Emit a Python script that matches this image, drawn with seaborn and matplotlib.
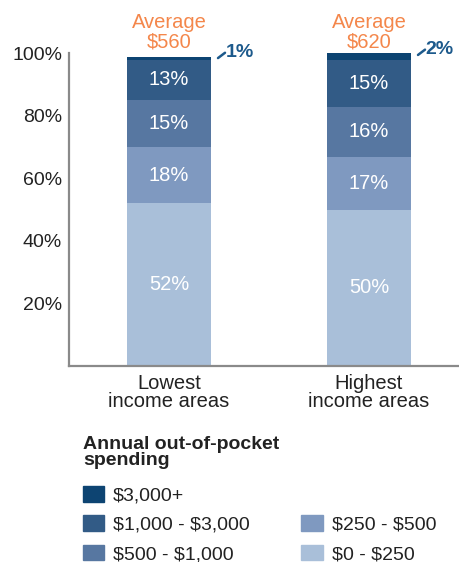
import matplotlib
matplotlib.use("Agg")
import matplotlib.pyplot as plt
import seaborn as sns
import numpy as np
import pandas as pd
from matplotlib.patches import Patch

# data (share of people, %)
groups = ["Lowest\nincome areas", "Highest\nincome areas"]
averages = ["$560", "$620"]
bands = ["$0 - $250", "$250 - $500", "$500 - $1,000", "$1,000 - $3,000", "$3,000+"]
lowest = [52, 18, 15, 13, 1]
highest = [50, 17, 16, 15, 2]
colors = ["#a9bfd9", "#7f99c0", "#5777a1", "#325b86", "#0d4472"]

sns.set_style("white")
plt.rcParams["font.family"] = ["Liberation Sans", "DejaVu Sans"]


def esc(s):
    return s.replace("$", r"\$")


df = pd.DataFrame({"group": np.repeat(groups, len(bands)),
                   "band": bands * len(groups),
                   "value": lowest + highest})
df["top"] = df.groupby("group", sort=False)["value"].cumsum()
df["bottom"] = df["top"] - df["value"]

fig = plt.figure(figsize=(4.6, 5.62), dpi=100)
ax = fig.add_axes([0.15, 0.349, 0.85, 0.556])

# stacked bars: draw cumulative tops from the tallest down
for i in range(len(bands) - 1, -1, -1):
    sub = df[df["band"] == bands[i]]
    sns.barplot(data=sub, x="group", y="top", color=colors[i], width=0.42,
                saturation=1, order=groups, ax=ax, linewidth=0, errorbar=None)

for _, r in df.iterrows():
    xi = groups.index(r["group"])
    if r["band"] == "$3,000+":
        ax.plot([xi + 0.245, xi + 0.28], [r["top"] - 0.5, r["top"] + 1.2],
                color="#1d5a8c", lw=1.8, clip_on=False)
        ax.text(xi + 0.283, r["top"] + 1.3, f"{r['value']}%", color="#1d5a8c",
                fontsize=14, fontweight="bold", va="center", ha="left", clip_on=False)
    else:
        ax.text(xi, (r["top"] + r["bottom"]) / 2, f"{r['value']}%", color="white",
                fontsize=14.5, ha="center", va="center")

for xi, a in enumerate(averages):
    ax.text(xi, 103.7, esc(a), color="#f4874b", fontsize=14.5, ha="center", va="center")
    ax.text(xi, 109.9, "Average", color="#f4874b", fontsize=14.5, ha="center", va="center")

ax.set_ylim(0, 100)
ax.set_xlim(-0.5, 1.455)
ax.set_yticks([20, 40, 60, 80, 100])
ax.set_yticklabels([f"{t}%" for t in [20, 40, 60, 80, 100]], fontsize=14, color="#222222")
ax.set_xticks([0, 1])
ax.set_xticklabels(groups, fontsize=14.5, color="#222222", linespacing=0.9)
ax.tick_params(axis="both", length=0, pad=5)
ax.tick_params(axis="x", pad=6)
ax.set_xlabel("")
ax.set_ylabel("")
sns.despine(ax=ax, top=True, right=True)
for s in ["left", "bottom"]:
    ax.spines[s].set_color("#8a8a8a")
    ax.spines[s].set_linewidth(1.6)

# legend title drawn on its own so its gap to the entries matches
fig.text(0.181, 0.1726, "Annual out-of-pocket\nspending", fontsize=14, fontweight="bold",
         color="#222222", ha="left", va="baseline", linespacing=0.95)

# legend: column 1 holds the top three bands, column 2 the lower two
handles = [Patch(color=colors[4]), Patch(color=colors[3]), Patch(color=colors[2]),
           Patch(color="none"), Patch(color=colors[1]), Patch(color=colors[0])]
labels = [esc(b) for b in [bands[4], bands[3], bands[2]]] + [""] + [esc(b) for b in [bands[1], bands[0]]]
leg = fig.legend(handles, labels, ncol=2, loc="upper left", bbox_to_anchor=(0.142, 0.166),
                 frameon=False, fontsize=14, handlelength=1.1, handleheight=0.85,
                 handletextpad=0.45, labelspacing=0.55, columnspacing=2.66)
for t in leg.get_texts():
    t.set_color("#222222")

fig.savefig("out.png", dpi=100)
